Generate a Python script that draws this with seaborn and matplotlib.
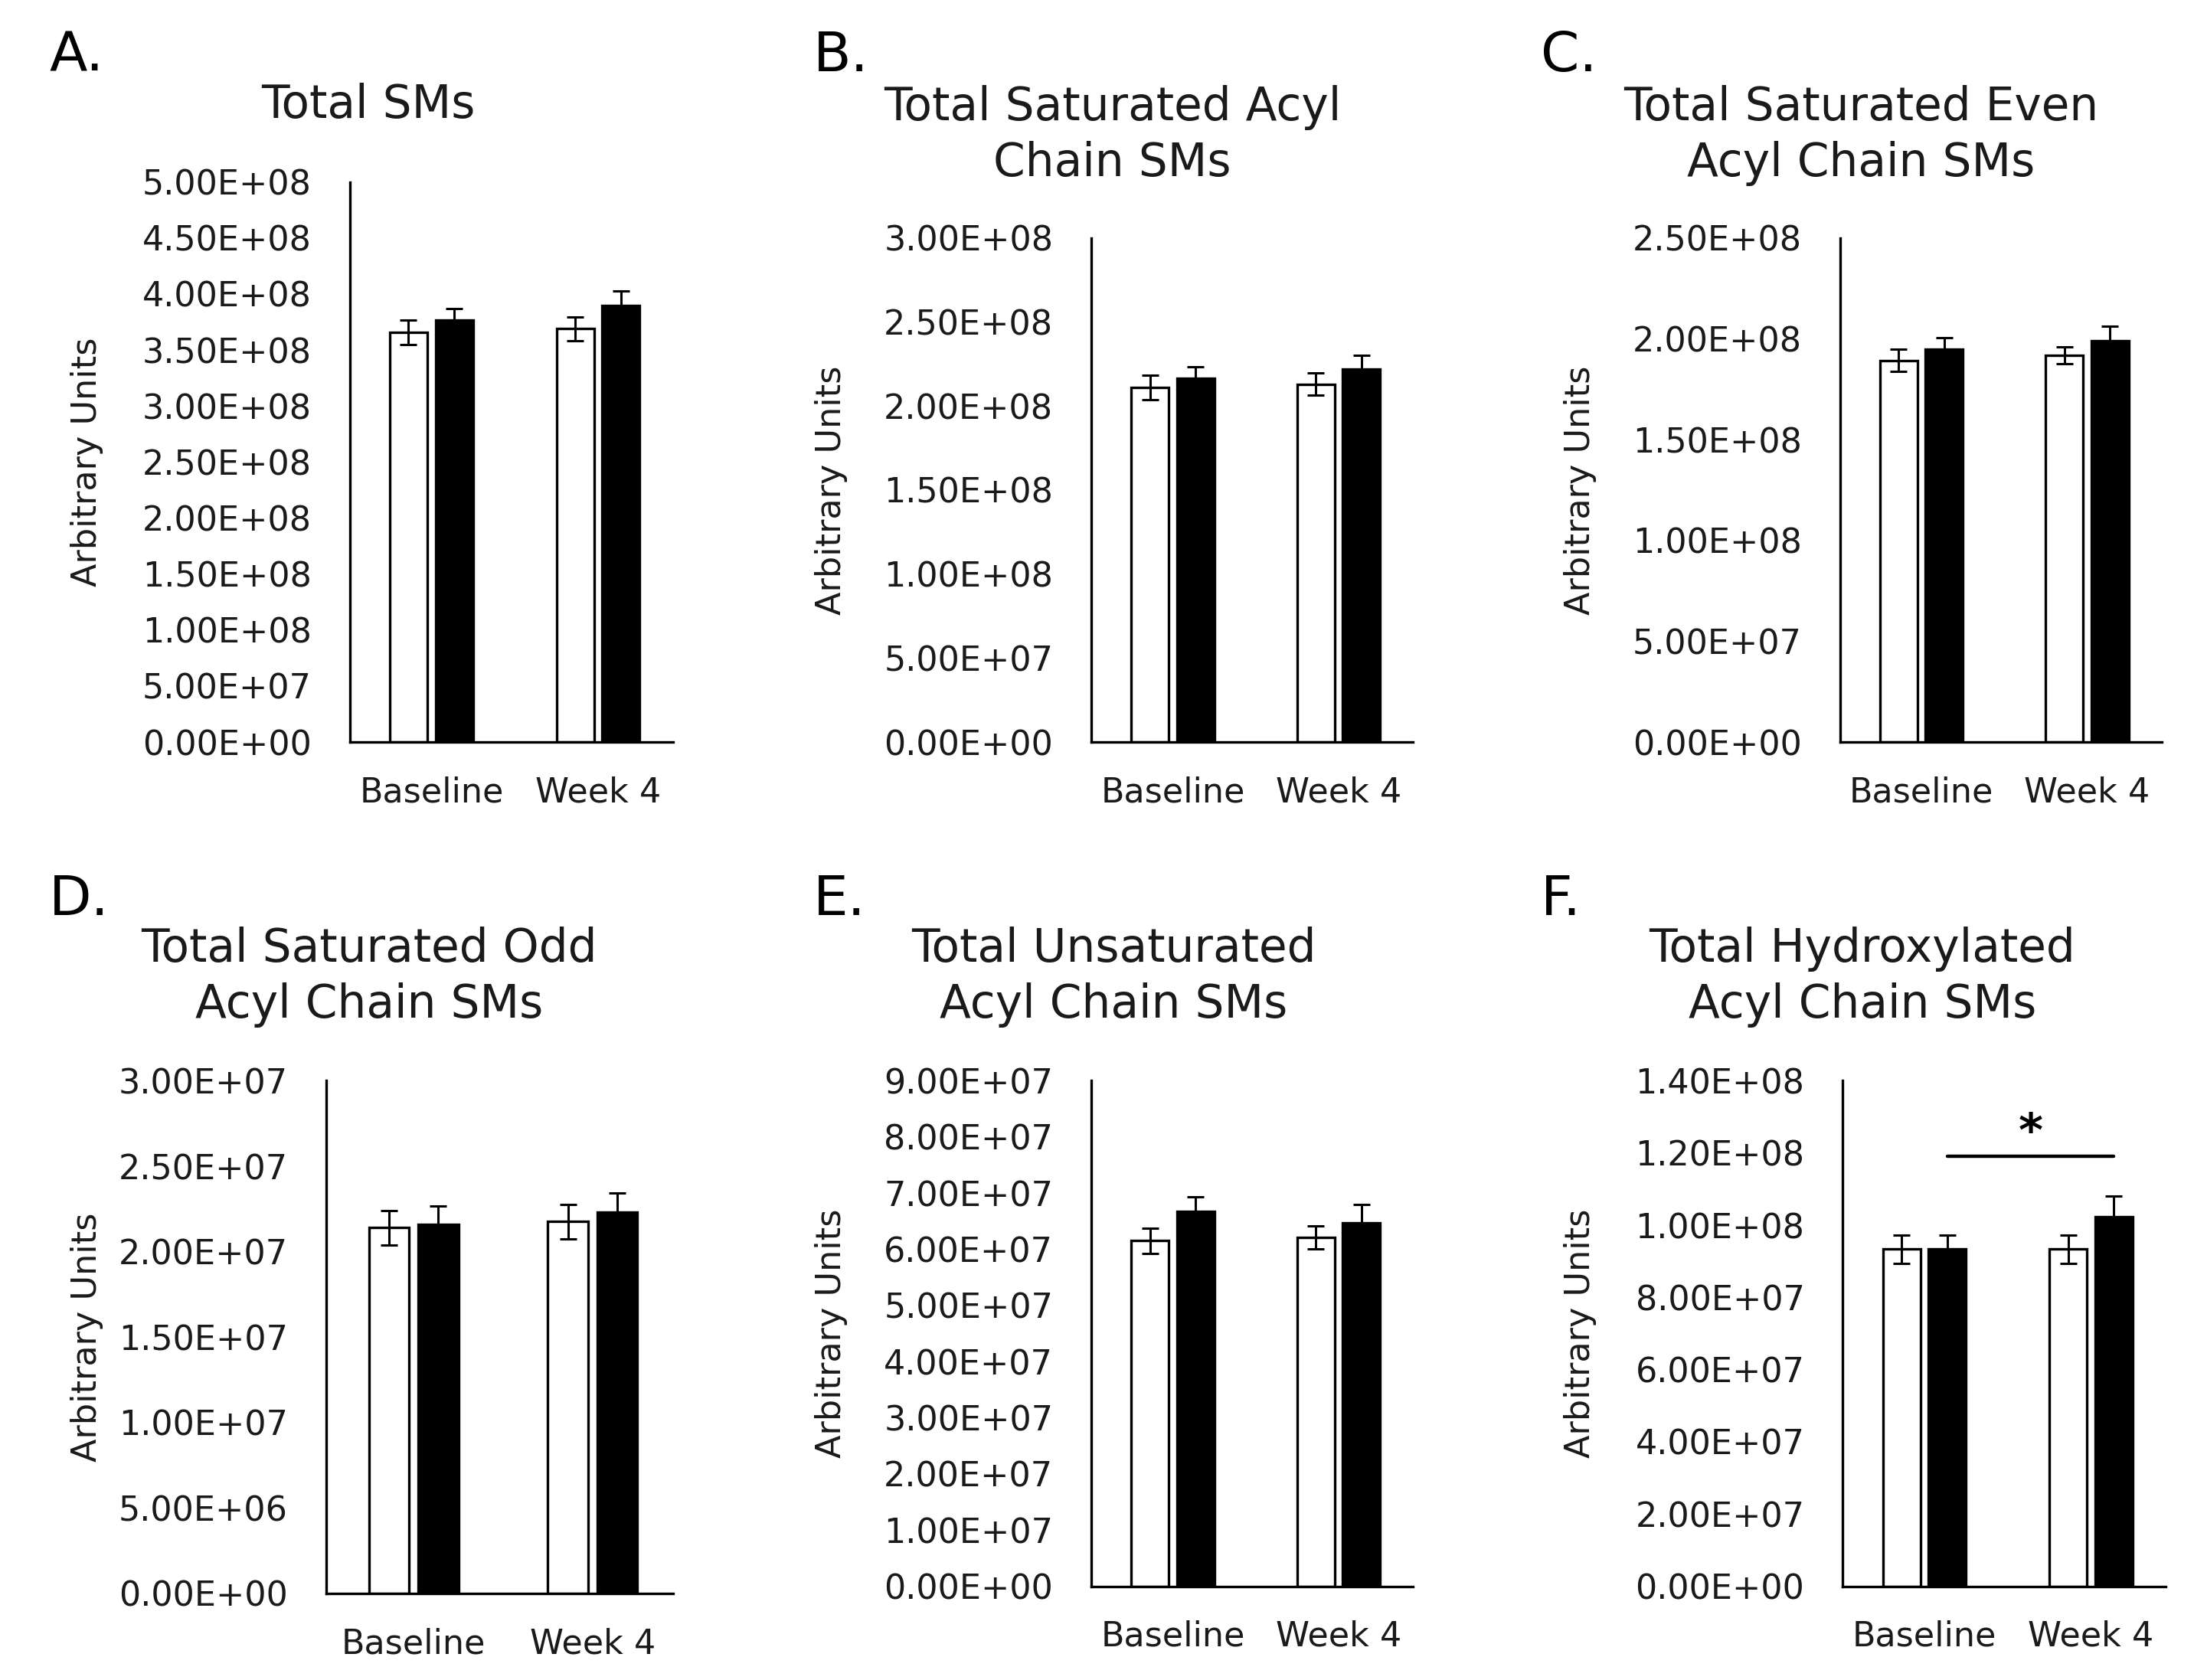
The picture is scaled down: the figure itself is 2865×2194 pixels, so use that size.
import numpy as np
import pandas as pd
import matplotlib
matplotlib.use("Agg")
import matplotlib.pyplot as plt
import seaborn as sns

# layout grid of the reference, in pixels (1568 x 1200)
GW, GH = 1568.0, 1200.0

timepoints = ["Baseline", "Week 4"]
groups = ["Open", "Filled"]

# A. Total SMs
total_open = [3.66e8, 3.69e8]
total_filled = [3.77e8, 3.90e8]
total_open_sem = [0.11e8, 0.105e8]
total_filled_sem = [0.10e8, 0.13e8]

# B. Total saturated acyl chain SMs
sat_open = [2.11e8, 2.13e8]
sat_filled = [2.165e8, 2.22e8]
sat_open_sem = [0.074e8, 0.067e8]
sat_filled_sem = [0.069e8, 0.084e8]

# C. Total saturated even acyl chain SMs
even_open = [1.893e8, 1.918e8]
even_filled = [1.949e8, 1.992e8]
even_open_sem = [0.056e8, 0.041e8]
even_filled_sem = [0.058e8, 0.070e8]

# D. Total saturated odd acyl chain SMs
odd_open = [2.14e7, 2.175e7]
odd_filled = [2.16e7, 2.23e7]
odd_open_sem = [0.10e7, 0.103e7]
odd_filled_sem = [0.106e7, 0.115e7]

# E. Total unsaturated acyl chain SMs
unsat_open = [6.15e7, 6.21e7]
unsat_filled = [6.67e7, 6.47e7]
unsat_open_sem = [0.22e7, 0.21e7]
unsat_filled_sem = [0.26e7, 0.33e7]

# F. Total hydroxylated acyl chain SMs
hydroxy_open = [9.34e7, 9.34e7]
hydroxy_filled = [9.34e7, 10.24e7]
hydroxy_open_sem = [0.39e7, 0.39e7]
hydroxy_filled_sem = [0.39e7, 0.57e7]
hydroxy_sig_y = 1.19e8

panels = [
    ("A.", "Total SMs", total_open, total_filled, total_open_sem, total_filled_sem, 5.0e8, 5.0e7),
    ("B.", "Total Saturated Acyl\nChain SMs", sat_open, sat_filled, sat_open_sem, sat_filled_sem, 3.0e8, 5.0e7),
    ("C.", "Total Saturated Even\nAcyl Chain SMs", even_open, even_filled, even_open_sem, even_filled_sem, 2.5e8, 5.0e7),
    ("D.", "Total Saturated Odd\nAcyl Chain SMs", odd_open, odd_filled, odd_open_sem, odd_filled_sem, 3.0e7, 5.0e6),
    ("E.", "Total Unsaturated\nAcyl Chain SMs", unsat_open, unsat_filled, unsat_open_sem, unsat_filled_sem, 9.0e7, 1.0e7),
    ("F.", "Total Hydroxylated\nAcyl Chain SMs", hydroxy_open, hydroxy_filled, hydroxy_open_sem, hydroxy_filled_sem, 1.4e8, 2.0e7),
]

# axes boxes (left, top, right, bottom) in grid pixels
boxes = [(250, 130, 481, 530), (780, 170, 1010, 530), (1315, 170, 1545, 530),
         (233, 772, 481, 1138), (780, 772, 1010, 1133), (1317, 772, 1548, 1133)]
title_pos = [(263, 75), (795, 97), (1330, 97), (264, 698), (796, 698), (1331, 698)]
letter_pos = [(35, 40), (581, 40), (1101, 40), (35, 643), (581, 643), (1101, 643)]
ylabel_x = [-0.762, -0.757, -0.757, -0.641, -0.757, -0.762]

sns.set_style("white")
plt.rcParams["font.family"] = ["DejaVu Sans"]
txt = "#1a1a1a"

fig = plt.figure(figsize=(14.325, 10.97), dpi=200)

for i, (letter, title, op, fi, op_sem, fi_sem, ytop, ystep) in enumerate(panels):
    l, t, r, b = boxes[i]
    ax = fig.add_axes([l / GW, 1 - b / GH, (r - l) / GW, (b - t) / GH])

    df = pd.DataFrame({
        "time": timepoints * 2,
        "group": [groups[0]] * 2 + [groups[1]] * 2,
        "value": op + fi,
    })
    sns.barplot(data=df, x="time", y="value", hue="group", order=timepoints,
                hue_order=groups, palette={"Open": "white", "Filled": "black"},
                width=0.55, gap=0.18, edgecolor="black", linewidth=1.2,
                saturation=1, errorbar=None, legend=False, ax=ax)

    for cont, sem in zip(ax.containers, [op_sem, fi_sem]):
        xs = [bar.get_x() + bar.get_width() / 2 for bar in cont]
        ys = [bar.get_height() for bar in cont]
        ax.errorbar(xs, ys, yerr=sem, fmt="none", ecolor="black",
                    elinewidth=1.1, capsize=4, capthick=1.1, zorder=3)

    ax.set_xlim(-0.49, 1.45)
    ax.set_ylim(0, ytop)
    ticks = np.arange(0, ytop + ystep / 2, ystep)
    ax.set_yticks(ticks)
    ax.set_yticklabels([f"{v:.2E}" for v in ticks])
    ax.set_xlabel("")
    ax.set_ylabel("Arbitrary Units", fontsize=16, color=txt)
    ax.yaxis.set_label_coords(ylabel_x[i], 0.5)
    ax.tick_params(axis="both", length=0, labelsize=16, labelcolor=txt)
    ax.tick_params(axis="y", pad=18)
    ax.tick_params(axis="x", pad=16)
    sns.despine(ax=ax)
    for side in ["left", "bottom"]:
        ax.spines[side].set_color("black")
        ax.spines[side].set_linewidth(1.2)

    tx, ty = title_pos[i]
    fig.text(tx / GW, 1 - ty / GH, title, ha="center", va="center",
             fontsize=21.5, color=txt, linespacing=1.3)
    lx, ly = letter_pos[i]
    fig.text(lx / GW, 1 - ly / GH, letter, ha="left", va="center",
             fontsize=26, color="black")

    if letter == "F.":
        filled_bars = ax.containers[1]
        x0 = filled_bars[0].get_x() + filled_bars[0].get_width() / 2
        x1 = filled_bars[1].get_x() + filled_bars[1].get_width() / 2
        ax.plot([x0, x1], [hydroxy_sig_y, hydroxy_sig_y], color="black", lw=1.6)
        ax.text((x0 + x1) / 2, hydroxy_sig_y, "*", ha="center",
                va="bottom", fontsize=22, fontweight="bold", color="black")

fig.savefig("out.png", dpi=200, facecolor="white")
